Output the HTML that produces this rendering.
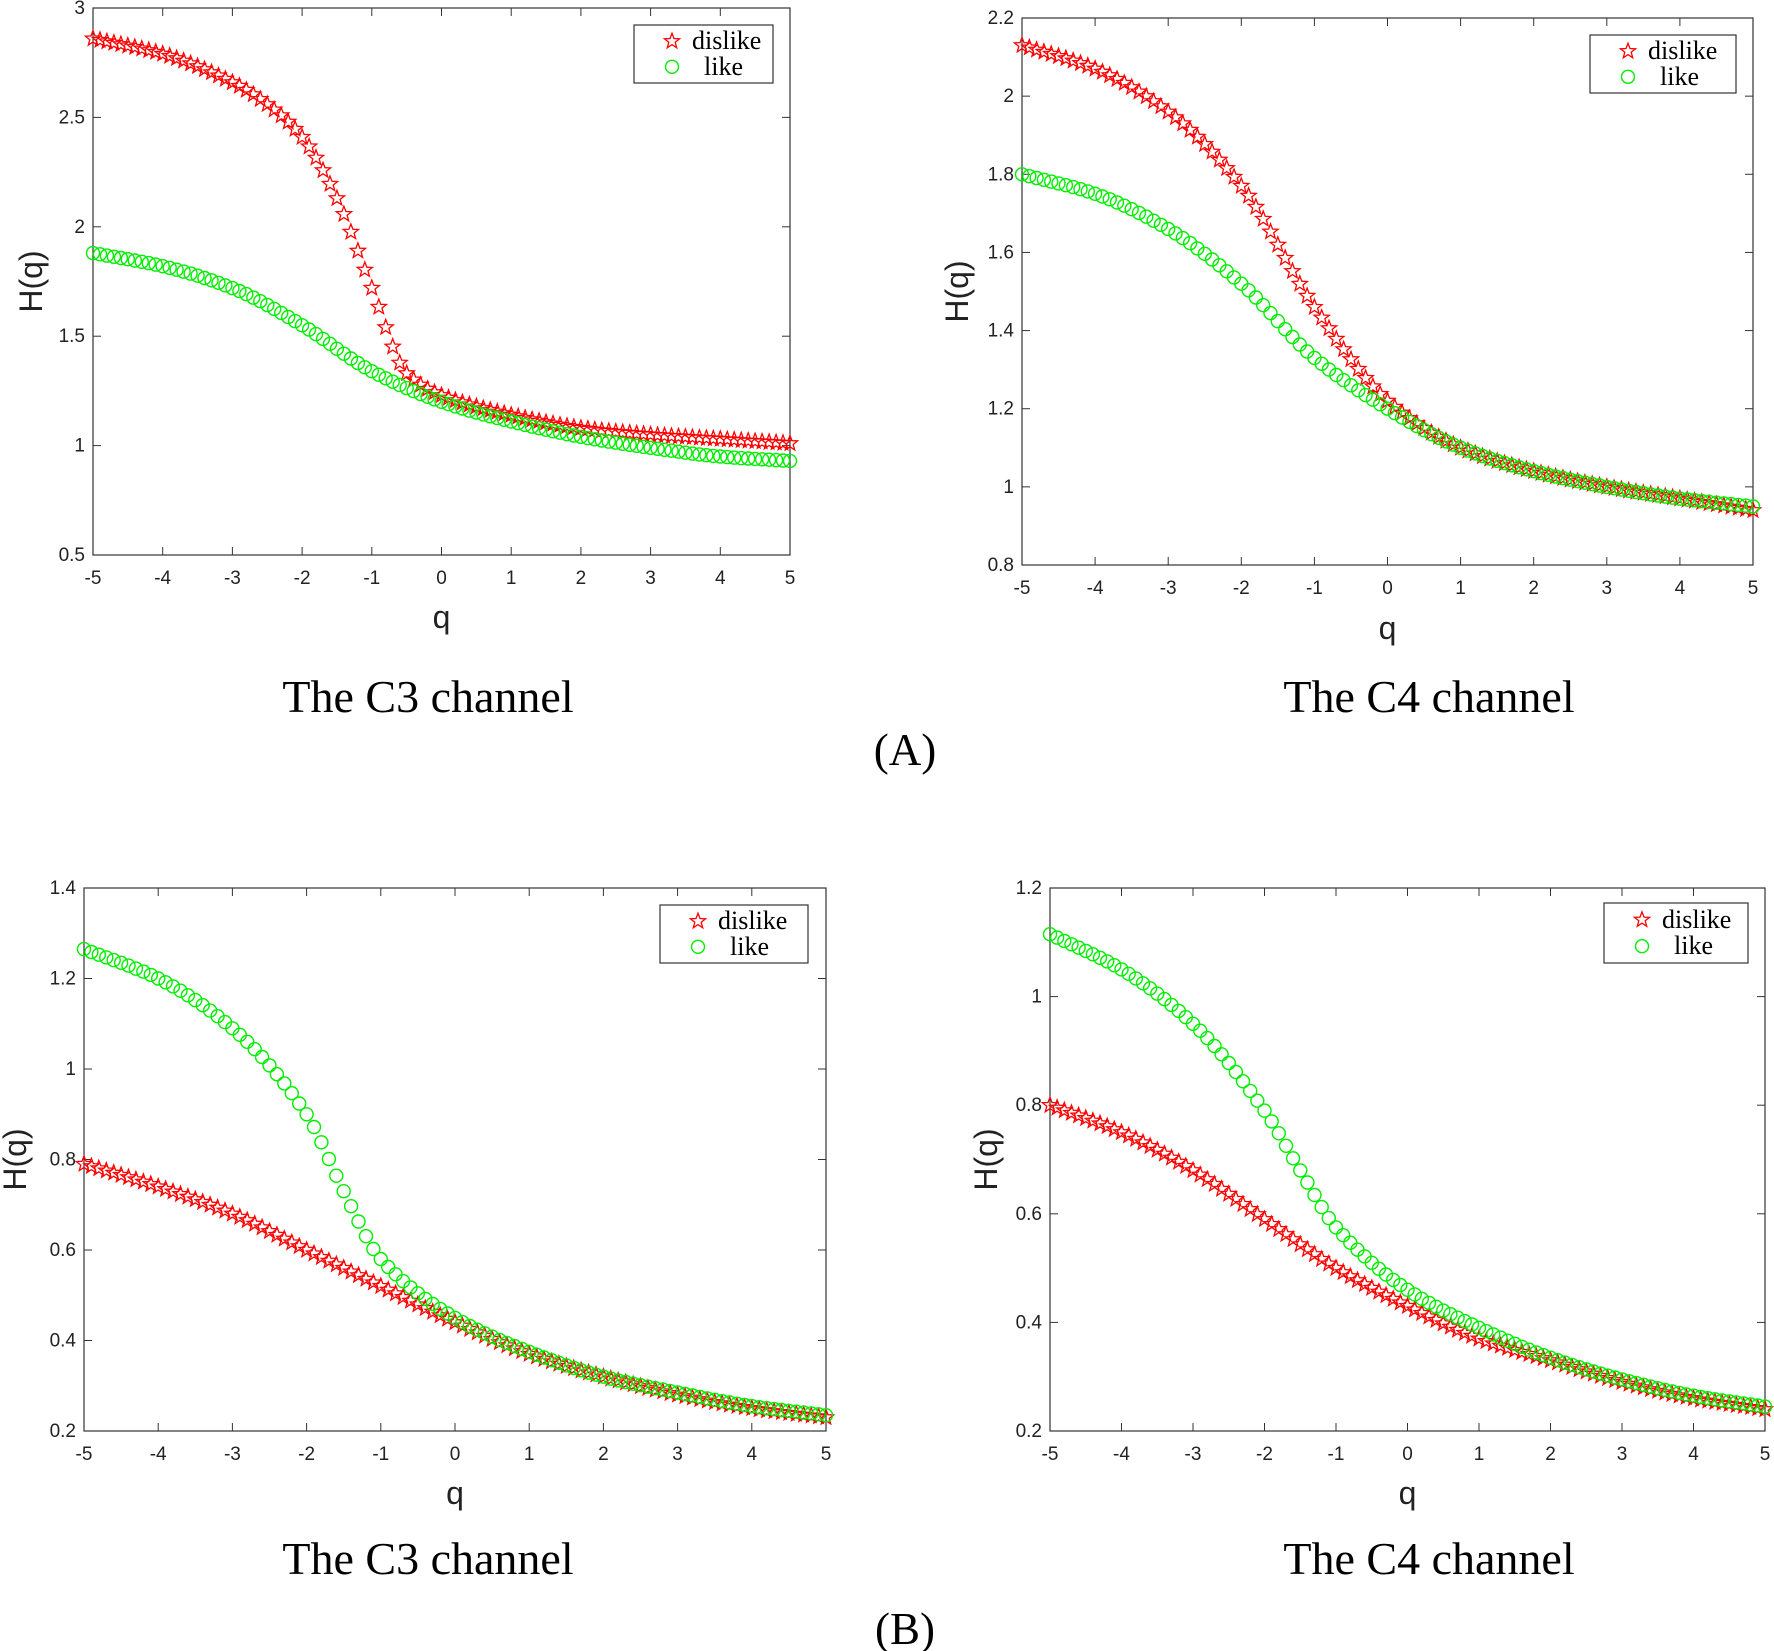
<!DOCTYPE html>
<html><head><meta charset="utf-8">
<style>
html,body{margin:0;padding:0;background:#fff;}
svg{display:block;}
.t{font-family:"Liberation Sans",Arial,sans-serif;font-size:19px;fill:#222;}
.s{font-family:"Liberation Serif","Times New Roman",serif;fill:#000;}
</style></head>
<body>
<svg id="c" width="1774" height="1651" xmlns="http://www.w3.org/2000/svg"></svg>
<script>
const svg=document.getElementById('c');
let out='';
function interp(pts,x){
  const n=pts.length;
  let i=0; while(i<n-2 && x>pts[i+1][0]) i++;
  const slope=(k)=>{
    if(k===0) return (pts[1][1]-pts[0][1])/(pts[1][0]-pts[0][0]);
    if(k===n-1) return (pts[n-1][1]-pts[n-2][1])/(pts[n-1][0]-pts[n-2][0]);
    const a=(pts[k][1]-pts[k-1][1])/(pts[k][0]-pts[k-1][0]);
    const b=(pts[k+1][1]-pts[k][1])/(pts[k+1][0]-pts[k][0]);
    if(a*b<=0) return 0; return 2/(1/a+1/b);
  };
  const x0=pts[i][0],x1=pts[i+1][0],y0=pts[i][1],y1=pts[i+1][1],h=x1-x0,t=(x-x0)/h;
  const m0=slope(i)*h,m1=slope(i+1)*h;
  const t2=t*t,t3=t2*t;
  return (2*t3-3*t2+1)*y0+(t3-2*t2+t)*m0+(-2*t3+3*t2)*y1+(t3-t2)*m1;
}
function star(cx,cy,r){
  let p=[];for(let k=0;k<10;k++){const a=-Math.PI/2+k*Math.PI/5;const rr=k%2?r*0.42:r;p.push((cx+rr*Math.cos(a)).toFixed(1)+','+(cy+rr*Math.sin(a)).toFixed(1));}
  return `<polygon points="${p.join(' ')}" fill="none" stroke="#f00" stroke-width="1.3"/>`;
}
function circ(cx,cy,r){return `<circle cx="${cx.toFixed(1)}" cy="${cy.toFixed(1)}" r="${r}" fill="none" stroke="#0e0" stroke-width="1.4"/>`;}
function panel(o){
  const {x0,x1,y0,y1,ymin,ymax,ystep,dis,like,leg,qy,hx}=o;
  const X=q=>x0+(q+5)/10*(x1-x0), Y=v=>y1-(v-ymin)/(ymax-ymin)*(y1-y0);
  out+=`<rect x="${x0}" y="${y0}" width="${x1-x0}" height="${y1-y0}" fill="#fff" stroke="#333" stroke-width="1.2"/>`;
  for(let q=-5;q<=5;q++){const x=X(q);
    out+=`<line x1="${x}" y1="${y1}" x2="${x}" y2="${y1-8}" stroke="#333"/><line x1="${x}" y1="${y0}" x2="${x}" y2="${y0+8}" stroke="#333"/>`;
    out+=`<text class="t" x="${x}" y="${y1+29}" text-anchor="middle">${q}</text>`;}
  const ns=Math.round((ymax-ymin)/ystep);
  for(let k=0;k<=ns;k++){const v=ymin+k*ystep,y=Y(v);
    out+=`<line x1="${x0}" y1="${y}" x2="${x0+8}" y2="${y}" stroke="#333"/><line x1="${x1}" y1="${y}" x2="${x1-8}" y2="${y}" stroke="#333"/>`;
    out+=`<text class="t" x="${x0-8}" y="${y+6}" text-anchor="end">${+v.toFixed(1)}</text>`;}
  out+=`<text class="t" x="${(x0+x1)/2}" y="${qy}" text-anchor="middle" style="font-size:32px">q</text>`;
  out+=`<text class="t" transform="translate(${hx},${(y0+y1)/2}) rotate(-90)" text-anchor="middle" style="font-size:32px">H(q)</text>`;
  for(let k=0;k<=100;k++){const q=-5+k*0.1;out+=star(X(q),Y(interp(dis,q)),8);}
  for(let k=0;k<=100;k++){const q=-5+k*0.1;out+=circ(X(q),Y(interp(like,q)),6.5);}
  const [lx,ly,lw,lh]=leg;
  out+=`<rect x="${lx}" y="${ly}" width="${lw}" height="${lh}" fill="#fff" stroke="#333" stroke-width="1.2"/>`;
  out+=star(lx+38,ly+lh*0.28,8)+circ(lx+38,ly+lh*0.72,6.5);
  out+=`<text class="s" x="${lx+58}" y="${ly+lh*0.28+8}" style="font-size:26px">dislike</text>`;
  out+=`<text class="s" x="${lx+70}" y="${ly+lh*0.72+8}" style="font-size:26px">like</text>`;
}
panel({x0:93,x1:790,y0:8,y1:555,ymin:0.5,ymax:3,ystep:0.5,qy:628,hx:42,leg:[634,25,139,58],
 dis:[[-5,2.86],[-4,2.79],[-3,2.66],[-2.5,2.56],[-2,2.41],[-1.5,2.13],[-1,1.72],[-0.5,1.33],[0,1.23],[1,1.14],[2,1.08],[3,1.05],[4,1.03],[5,1.01]],
 like:[[-5,1.88],[-4,1.82],[-3,1.72],[-2,1.55],[-1,1.34],[0,1.2],[1,1.11],[2,1.04],[3,0.99],[4,0.95],[5,0.93]]});
panel({x0:1022,x1:1753,y0:18,y1:565,ymin:0.8,ymax:2.2,ystep:0.2,qy:639,hx:968,leg:[1590,35,146,58],
 dis:[[-5,2.13],[-4,2.07],[-3,1.96],[-2,1.77],[-1,1.46],[0,1.22],[1,1.1],[2,1.04],[3,1.0],[4,0.97],[5,0.94]],
 like:[[-5,1.80],[-4,1.75],[-3,1.66],[-2,1.52],[-1,1.33],[0,1.2],[1,1.1],[2,1.04],[3,1.0],[4,0.97],[5,0.95]]});
panel({x0:84,x1:826,y0:888,y1:1431,ymin:0.2,ymax:1.4,ystep:0.2,qy:1504,hx:26,leg:[660,905,148,58],
 dis:[[-5,0.79],[-4,0.74],[-3,0.68],[-2,0.6],[-1,0.52],[0,0.44],[1,0.37],[2,0.32],[3,0.28],[4,0.25],[5,0.23]],
 like:[[-5,1.265],[-4,1.2],[-3,1.09],[-2,0.9],[-1.5,0.73],[-1,0.58],[0,0.45],[1,0.375],[2,0.32],[3,0.285],[4,0.255],[5,0.235]]});
panel({x0:1050,x1:1765,y0:888,y1:1431,ymin:0.2,ymax:1.2,ystep:0.2,qy:1504,hx:997,leg:[1604,903,144,60],
 dis:[[-5,0.80],[-4,0.75],[-3,0.68],[-2,0.59],[-1,0.5],[0,0.43],[1,0.37],[2,0.33],[3,0.29],[4,0.26],[5,0.24]],
 like:[[-5,1.115],[-4,1.05],[-3,0.95],[-2,0.79],[-1.5,0.68],[-1,0.575],[0,0.46],[1,0.39],[2,0.335],[3,0.295],[4,0.265],[5,0.245]]});
out+=`<text class="s" x="428" y="712" text-anchor="middle" style="font-size:46px">The C3 channel</text>`;
out+=`<text class="s" x="1429" y="712" text-anchor="middle" style="font-size:46px">The C4 channel</text>`;
out+=`<text class="s" x="905" y="765" text-anchor="middle" style="font-size:45px">(A)</text>`;
out+=`<text class="s" x="428" y="1574" text-anchor="middle" style="font-size:46px">The C3 channel</text>`;
out+=`<text class="s" x="1429" y="1574" text-anchor="middle" style="font-size:46px">The C4 channel</text>`;
out+=`<text class="s" x="905" y="1644" text-anchor="middle" style="font-size:45px">(B)</text>`;
svg.innerHTML=out;
</script>
</body></html>
